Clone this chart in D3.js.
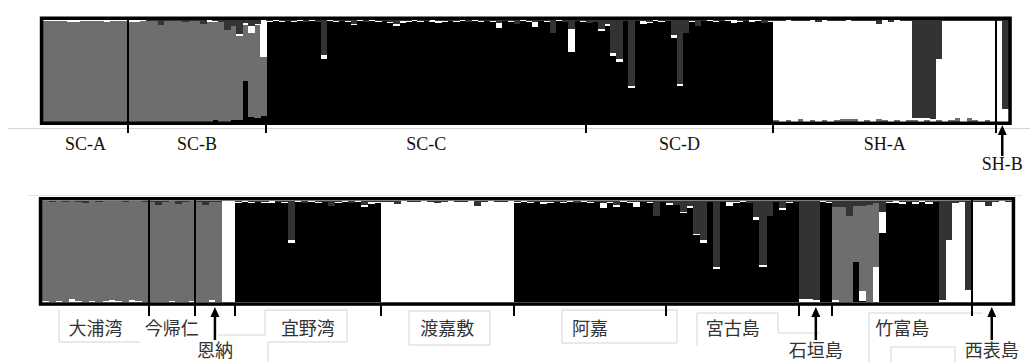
<!DOCTYPE html>
<html>
<head>
<meta charset="utf-8">
<script src="https://cdn.jsdelivr.net/npm/d3@7"></script>
<style>
  html, body { margin: 0; padding: 0; background: #fff; }
  svg { display: block; }
</style>
</head>
<body>
<svg id="chart" width="1030" height="362"></svg>
<script>
// Cluster membership proportions (Q) per individual: [K1, K2, K3, K4]
const clusterKeys = ["K1", "K2", "K3", "K4"];
const clusterColors = { K1: "#000000", K2: "#6e6e6e", K3: "#ffffff", K4: "#333333" };

// ---------- upper panel ----------
const qSCA = [
  [0,0.99,0.01,0],[0,0.99,0.01,0],[0,0.99,0.01,0],[0,0.99,0.01,0],[0,0.98,0.02,0],
  [0,0.98,0.02,0],[0,0.99,0.01,0],[0,0.99,0.01,0],[0,0.99,0.01,0],[0,0.99,0.01,0],
  [0,0.98,0.02,0],[0,0.99,0.01,0],[0,0.99,0.01,0],[0,0.99,0.01,0]
];
const qSCB = [
  [0,0.98,0.02,0],[0,0.98,0.02,0],[0,0.99,0.01,0],[0,0.99,0,0.01],[0,0.99,0,0.01],
  [0,0.95,0,0.05],[0,0.99,0,0.01],[0,0.99,0,0.01],[0,0.99,0,0.01],[0,0.98,0,0.02],
  [0,0.99,0,0.01],[0,0.99,0,0.01],[0,0.96,0,0.04],[0,0.98,0.02,0],[0.01,0.97,0.01,0.01],
  [0,0.98,0,0.02],[0,0.90,0,0.10],[0.01,0.93,0,0.06],[0.01,0.83,0.02,0.14],[0.40,0.55,0.02,0.03],
  [0.04,0.83,0.07,0.06],[0.03,0.92,0.01,0.04],[0.05,0.59,0.36,0]
];
const qSCC = [
  [0.98,0,0.01,0.01],[0.99,0,0.01,0],[0.98,0,0.01,0.01],[0.99,0,0,0.01],[0.98,0,0.01,0.01],
  [0.99,0,0.01,0],[0.98,0,0,0.02],[0.99,0,0.01,0],[0.98,0,0,0.02],[0.62,0,0.04,0.34],
  [0.99,0,0.01,0],[0.98,0,0.01,0.01],[0.99,0,0,0.01],[0.98,0,0.01,0.01],[0.95,0,0.01,0.04],
  [0.99,0,0.01,0],[0.98,0,0,0.02],[0.99,0,0.01,0],[0.98,0,0.01,0.01],[0.99,0,0,0.01],
  [0.97,0,0.01,0.02],[0.94,0,0.02,0.04],[0.97,0,0.02,0.01],[0.98,0,0.01,0.01],[0.99,0,0.01,0],
  [0.98,0,0.01,0.01],[0.99,0,0,0.01],[0.98,0,0.02,0],[0.97,0,0.02,0.01],[0.98,0,0.01,0.01],
  [0.99,0,0,0.01],[0.98,0,0.01,0.01],[0.99,0,0.01,0],[0.98,0,0,0.02],[0.99,0,0.01,0],
  [0.98,0,0.01,0.01],[0.99,0,0,0.01],[0.98,0,0.01,0.01],[0.92,0,0.05,0.03],[0.99,0,0,0.01],
  [0.98,0,0.01,0.01],[0.96,0,0,0.04],[0.99,0,0.01,0],[0.98,0,0.01,0.01],[0.93,0,0.05,0.02],
  [0.99,0,0,0.01],[0.98,0,0.01,0.01],[0.87,0,0,0.13],[0.99,0,0.01,0],[0.98,0,0,0.02],
  [0.68,0,0.23,0.09],[0.99,0,0,0.01],[0.98,0,0.01,0.01]
];
const qSCD = [
  [0.97,0,0,0.03],[0.98,0,0,0.02],[0.89,0,0.02,0.09],[0.94,0,0.02,0.04],[0.65,0,0.02,0.33],
  [0.59,0,0.03,0.38],[0.99,0,0,0.01],[0.33,0,0.02,0.65],[0.99,0,0,0.01],[0.96,0,0.03,0.01],
  [0.97,0,0.01,0.02],[0.99,0,0.01,0],[0.98,0,0.01,0.01],[0.99,0,0,0.01],[0.82,0,0.03,0.15],
  [0.35,0,0.02,0.63],[0.87,0,0,0.13],[0.98,0,0.01,0.01],[0.94,0,0,0.06],[0.99,0,0,0.01],
  [0.99,0,0.01,0],[0.98,0,0.01,0.01],[0.99,0,0,0.01],[0.99,0,0.01,0],[0.97,0,0.03,0],
  [0.98,0,0.01,0.01],[0.99,0,0,0.01],[0.98,0,0.02,0],[0.99,0,0.01,0],[0.97,0,0,0.03],
  [0.98,0,0.01,0.01]
];
const qSHA = [
  [0,0.01,0.98,0.01],[0,0,0.99,0.01],[0,0.01,0.99,0],[0,0,0.99,0.01],[0,0.02,0.97,0.01],
  [0,0,0.99,0.01],[0,0.01,0.99,0],[0,0,0.98,0.02],[0,0.01,0.99,0],[0,0,0.99,0.01],
  [0,0.01,0.98,0.01],[0,0.02,0.97,0.01],[0,0.02,0.98,0],[0,0.02,0.97,0.01],[0,0,0.99,0.01],
  [0,0.01,0.98,0.01],[0,0,0.99,0.01],[0,0.02,0.94,0.04],[0,0.01,0.99,0],[0,0,0.98,0.02],
  [0,0.01,0.99,0],[0,0,0.99,0.01],[0,0.01,0.98,0.01],[0,0.01,0.02,0.97],[0,0,0.03,0.97],
  [0,0.01,0.02,0.97],[0,0,0.02,0.98],[0,0.01,0.61,0.38],[0,0,0.99,0.01],[0,0.01,0.98,0.01],
  [0,0.03,0.96,0.01],[0,0,0.99,0.01],[0,0.03,0.96,0.01],[0,0.01,0.98,0.01],[0,0,0.99,0.01],
  [0,0.01,0.98,0.01],[0,0,0.99,0.01]
];
const qSHB = [[0,0,0.99,0.01],[0,0,0.12,0.88]];

// ---------- lower panel ----------
const qOura = [
  [0,0.99,0.01,0],[0,0.99,0,0.01],[0,0.99,0.01,0],[0,0.99,0,0.01],[0,0.97,0.03,0],
  [0,0.98,0.01,0.01],[0,0.98,0,0.02],[0,0.99,0.01,0],[0,0.99,0,0.01],[0,0.99,0.01,0],
  [0,0.98,0.02,0],[0,0.99,0.01,0],[0,0.99,0,0.01],[0,0.98,0.02,0],[0,0.99,0.01,0],
  [0,0.99,0,0.01]
];
const qNakijin = [
  [0,0.99,0,0.01],[0,0.96,0,0.04],[0,0.99,0,0.01],[0,0.99,0.01,0],[0,0.97,0,0.03],
  [0,0.99,0,0.01],[0,0.99,0.01,0]
];
const qOnna = [
  [0,0.99,0,0.01],[0,0.96,0,0.04],[0,0.97,0.02,0.01],[0,0.99,0,0.01],[0,0,1,0],[0,0,1,0]
];
const qGinowan = [
  [0.98,0,0.01,0.01],[0.99,0,0.01,0],[0.98,0,0.01,0.01],[0.99,0,0,0.01],[0.98,0,0.01,0.01],
  [0.98,0,0.02,0],[0.99,0,0,0.01],[0.98,0,0.01,0.01],[0.58,0,0.03,0.39],[0.99,0,0.01,0],
  [0.98,0,0,0.02],[0.99,0,0.01,0],[0.98,0,0.01,0.01],[0.99,0,0,0.01],[0.95,0,0,0.05],
  [0.98,0,0.01,0.01],[0.99,0,0.01,0],[0.98,0,0,0.02],[0.99,0,0.01,0],[0.94,0,0.02,0.04],
  [0.97,0,0.02,0.01],[0.98,0,0.01,0.01]
];
const qTokashiki = [
  [0,0,0.99,0.01],[0,0,0.99,0.01],[0,0,0.97,0.03],[0,0,1,0],[0,0,0.99,0.01],
  [0,0,0.99,0.01],[0,0,1,0],[0,0,0.99,0.01],[0,0,0.98,0.02],[0,0,0.99,0.01],
  [0,0,1,0],[0,0,0.99,0.01],[0,0,0.99,0.01],[0,0,1,0],[0,0,0.95,0.05],
  [0,0,0.99,0.01],[0,0,1,0],[0,0,0.99,0.01],[0,0,0.99,0.01],[0,0,1,0]
];
const qAka = [
  [0.98,0,0.01,0.01],[0.99,0,0.01,0],[0.98,0,0.01,0.01],[0.99,0,0,0.01],[0.97,0,0.02,0.01],
  [0.98,0,0.01,0.01],[0.99,0,0,0.01],[0.98,0,0.01,0.01],[0.99,0,0.01,0],[0.98,0,0,0.02],
  [0.99,0,0.01,0],[0.98,0,0.01,0.01],[0.99,0,0,0.01],[0.93,0,0.05,0.02],[0.98,0,0.01,0.01],
  [0.94,0,0.02,0.04],[0.99,0,0.01,0],[0.98,0,0.01,0.01],[0.94,0,0.05,0.01],[0.99,0,0,0.01],
  [0.98,0,0.01,0.01],[0.85,0,0,0.15],[0.99,0,0,0.01]
];
const qMiyako = [
  [0.96,0,0.02,0.02],[0.96,0,0,0.04],[0.88,0,0.01,0.11],[0.93,0,0.02,0.05],[0.66,0,0.01,0.33],
  [0.58,0,0.03,0.39],[0.99,0,0,0.01],[0.33,0,0.02,0.65],[0.99,0,0,0.01],[0.95,0,0.04,0.01],
  [0.98,0,0.01,0.01],[0.99,0,0.01,0],[0.98,0,0,0.02],[0.81,0,0.03,0.16],[0.35,0,0.02,0.63],
  [0.85,0,0,0.15],[0.99,0,0,0.01],[0.91,0,0.02,0.07],[0.98,0,0.01,0.01],[0.99,0,0,0.01]
];
const qIshigaki = [
  [0,0,0.03,0.97],[0,0,0.03,0.97],[0,0,0.02,0.98],[0.99,0,0.01,0],[0.98,0,0.01,0.01]
];
const qTaketomi = [
  [0,0.92,0.02,0.06],[0,0.94,0,0.06],[0,0.85,0,0.15],[0.40,0.55,0,0.05],[0.01,0.84,0.10,0.05],
  [0,0.96,0,0.04],[0,0.63,0.35,0.02],[0.68,0,0.21,0.11],[0.98,0,0.01,0.01],[0.98,0,0.02,0],
  [0.97,0,0.02,0.01],[0.99,0,0,0.01],[0.97,0,0.02,0.01],[0.99,0,0.01,0],[0.97,0,0.02,0.01],
  [0.99,0,0,0.01],[0,0,0.02,0.98],[0,0,0.61,0.39],[0,0,0.98,0.02],[0,0,0.99,0.01],
  [0,0,0.12,0.88]
];
const qIriomote = [
  [0,0,0.99,0.01],[0,0,0.99,0.01],[0,0,0.95,0.05],[0,0,0.99,0.01],[0,0,1,0],[0,0,0.99,0.01]
];

const upperPops = [
  { name: "SC-A", q: qSCA }, { name: "SC-B", q: qSCB }, { name: "SC-C", q: qSCC },
  { name: "SC-D", q: qSCD }, { name: "SH-A", q: qSHA }, { name: "SH-B", q: qSHB }
];
const lowerPops = [
  { name: "大浦湾", q: qOura }, { name: "今帰仁", q: qNakijin }, { name: "恩納", q: qOnna },
  { name: "宜野湾", q: qGinowan }, { name: "渡嘉敷", q: qTokashiki }, { name: "阿嘉", q: qAka },
  { name: "宮古島", q: qMiyako }, { name: "石垣島", q: qIshigaki }, { name: "竹富島", q: qTaketomi },
  { name: "西表島", q: qIriomote }
];

// populations preceded by a full-height separator line
const upperDividers = ["SC-B", "SH-B"];
const lowerDividers = ["今帰仁", "恩納", "西表島"];
// populations labelled below an arrow
const upperArrows = ["SH-B"];
const lowerArrows = ["恩納", "石垣島", "西表島"];

const svg = d3.select("#chart");

// faint page rules
svg.append("line").attr("x1", 8).attr("x2", 1030).attr("y1", 128.5).attr("y2", 128.5)
  .attr("stroke", "#d6d6d6").attr("stroke-width", 1);
svg.append("line").attr("x1", 28).attr("x2", 1022).attr("y1", 195.5).attr("y2", 195.5)
  .attr("stroke", "#e4e4e4").attr("stroke-width", 1);

// light outlines of the label text boxes
const boxLines = [
  [[59, 310], [59, 342], [140, 342]],
  [[218, 335], [265, 335], [265, 310], [347, 310], [347, 342], [268, 342], [268, 362]],
  [[409, 311], [490, 311], [490, 345], [409, 345], [409, 311]],
  [[562, 310], [677, 310], [677, 343], [562, 343], [562, 310]],
  [[697, 346], [697, 313], [778, 313], [778, 333], [820, 333]],
  [[869, 362], [869, 313], [983, 313]],
  [[891, 362], [891, 347], [955, 347], [955, 362]]
];
svg.append("g").selectAll("path").data(boxLines).join("path")
  .attr("d", d3.line())
  .attr("fill", "none").attr("stroke", "#d4d4d4").attr("stroke-width", 1);

function drawPanel(p) {
  const rows = [];
  const spans = [];
  p.pops.forEach(pop => {
    const start = rows.length;
    pop.q.forEach(v => rows.push({ K1: v[0], K2: v[1], K3: v[2], K4: v[3] }));
    spans.push({ name: pop.name, start, end: rows.length });
  });

  const x = d3.scaleBand().domain(d3.range(rows.length)).range([p.x0, p.x1]).padding(0);
  const y = d3.scaleLinear().domain([0, 1]).range([p.y1, p.y0]);
  const stacked = d3.stack().keys(p.order)(rows);

  const g = svg.append("g");
  g.append("rect").attr("x", p.x0).attr("y", p.y0)
    .attr("width", p.x1 - p.x0).attr("height", p.y1 - p.y0).attr("fill", "#fff");

  stacked.forEach(s => {
    g.append("g").attr("fill", clusterColors[s.key]).attr("shape-rendering", "crispEdges")
      .selectAll("rect").data(s).join("rect")
      .attr("x", (d, i) => x(i))
      .attr("width", x.bandwidth() + 0.5)
      .attr("y", d => y(d[1]))
      .attr("height", d => Math.max(0, y(d[0]) - y(d[1])));
  });

  // frame
  const sw = 3.5;
  g.append("rect")
    .attr("x", p.x0 - sw / 2).attr("y", p.y0 - sw / 2)
    .attr("width", p.x1 - p.x0 + sw).attr("height", p.y1 - p.y0 + sw)
    .attr("fill", "none").attr("stroke", "#000").attr("stroke-width", sw);

  // population boundaries
  spans.slice(1).forEach(s => {
    const xb = Math.round(x(s.start));
    const full = p.dividers.includes(s.name);
    g.append("line")
      .attr("x1", xb).attr("x2", xb)
      .attr("y1", full ? p.y0 - sw / 2 : p.y1 + sw / 2)
      .attr("y2", p.tickBottom)
      .attr("stroke", "#000").attr("stroke-width", 2);
  });

  // labels
  spans.forEach(s => {
    const cx = (x(s.start) + x(s.end - 1) + x.bandwidth()) / 2;
    const arrow = p.arrows.includes(s.name);
    if (arrow) {
      g.append("line").attr("x1", cx).attr("x2", cx)
        .attr("y1", p.arrowFrom).attr("y2", p.arrowTip + 7)
        .attr("stroke", "#000").attr("stroke-width", 2.5);
      g.append("path")
        .attr("d", `M${cx},${p.arrowTip} L${cx - 4.5},${p.arrowTip + 10} L${cx + 4.5},${p.arrowTip + 10} Z`)
        .attr("fill", "#000");
    }
    g.append("text")
      .attr("x", cx)
      .attr("y", arrow ? p.arrowLabelY : p.labelY)
      .attr("text-anchor", "middle")
      .attr("font-family", p.font)
      .attr("font-size", p.fontSize)
      .attr("fill", p.textColor)
      .text(s.name);
  });
}

drawPanel({
  pops: upperPops, order: ["K1", "K2", "K3", "K4"],
  x0: 43.3, x1: 1008.3, y0: 20, y1: 121.5,
  dividers: upperDividers, arrows: upperArrows,
  tickBottom: 133, labelY: 150, arrowLabelY: 170, arrowFrom: 156, arrowTip: 125,
  font: "'Liberation Serif', 'Times New Roman', serif", fontSize: 18, textColor: "#111"
});

drawPanel({
  pops: lowerPops, order: ["K1", "K3", "K2", "K4"],
  x0: 42.3, x1: 1011.7, y0: 200.5, y1: 302.3,
  dividers: lowerDividers, arrows: lowerArrows,
  tickBottom: 316, labelY: 335, arrowLabelY: 357, arrowFrom: 340, arrowTip: 307,
  font: "'Noto Sans CJK JP', 'Noto Sans CJK SC', sans-serif", fontSize: 18, textColor: "#333"
});
</script>
</body>
</html>
